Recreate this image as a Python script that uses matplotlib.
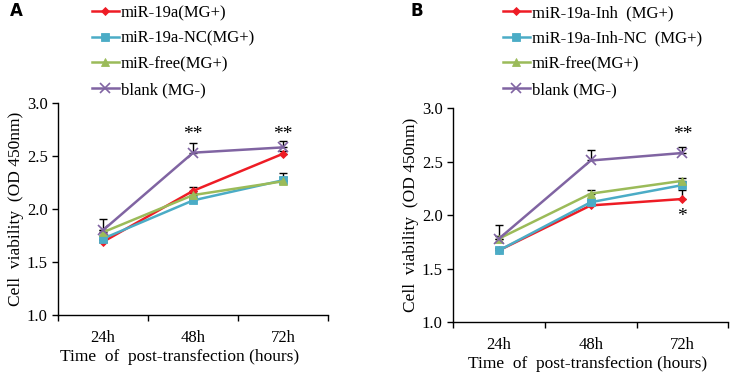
import matplotlib

matplotlib.use("Agg")
import matplotlib.pyplot as plt

plt.rcParams["font.family"] = ["Liberation Serif", "DejaVu Serif"]

TIMES = ["24h", "48h", "72h"]

LABELS_A = ["miR-19a(MG+)", "miR-19a-NC(MG+)", "miR-free(MG+)", "blank (MG-)"]
LABELS_B = ["miR-19a-Inh  (MG+)", "miR-19a-Inh-NC  (MG+)", "miR-free(MG+)", "blank (MG-)"]

# panel A means / upper errors
A_RED = [1.69, 2.17, 2.52]
A_CYAN = [1.72, 2.08, 2.27]
A_GREEN = [1.78, 2.13, 2.26]
A_PURPLE = [1.80, 2.53, 2.58]
A_RED_ERR = [0.02, 0.04, 0.03]
A_CYAN_ERR = [0.02, 0.02, 0.03]
A_GREEN_ERR = [0.02, 0.02, 0.08]
A_PURPLE_ERR = [0.10, 0.09, 0.06]

# panel B means / upper errors
B_RED = [1.67, 2.09, 2.15]
B_CYAN = [1.67, 2.12, 2.28]
B_GREEN = [1.78, 2.20, 2.32]
B_PURPLE = [1.78, 2.51, 2.58]
B_RED_ERR = [0.02, 0.02, 0.08]
B_CYAN_ERR = [0.02, 0.02, 0.03]
B_GREEN_ERR = [0.02, 0.03, 0.03]
B_PURPLE_ERR = [0.13, 0.10, 0.06]

# significance marks: (time index, y, text)
A_STARS = [(1, 2.70, "**"), (2, 2.70, "**")]
B_STARS = [(2, 2.75, "**"), (2, 1.99, "*")]

COLORS = ["#EE1C25", "#4BACC6", "#9BBB59", "#8064A2"]
MARKERS = ["D", "s", "^", "x"]
MSIZES = [4, 5.5, 5.5, 7]


def draw_panel(ax, series, errs, labels, stars, xlabel_x):
    xs = [0.5, 1.5, 2.5]
    handles = []
    for vals, err, lab, c, m, ms in zip(series, errs, labels, COLORS, MARKERS, MSIZES):
        ax.errorbar(xs, vals, yerr=[[0] * 3, err], fmt="none", ecolor="black",
                    elinewidth=1.0, capsize=3, capthick=1.0, zorder=2)
        (h,) = ax.plot(xs, vals, color=c, marker=m, markersize=ms, linewidth=1.8,
                       markeredgewidth=1.2 if m == "x" else 0.6, label=lab, zorder=3)
        handles.append(h)
    for i, y, t in stars:
        ax.text(xs[i], y, t, ha="center", va="center", fontsize=14)

    ax.set_xlim(0, 3)
    ax.set_ylim(1.0, 3.0)
    ax.set_yticks([1.0, 1.5, 2.0, 2.5, 3.0])
    ax.set_yticklabels(["1.0", "1.5", "2.0", "2.5", "3.0"], fontsize=12)
    ax.set_xticks([0, 1, 2, 3])
    ax.set_xticklabels([])
    ax.set_xticks(xs, minor=True)
    ax.set_xticklabels(TIMES, minor=True, fontsize=12)
    ax.tick_params(axis="x", which="minor", length=0, pad=11)
    ax.tick_params(axis="both", which="major", direction="out", length=4, width=1)
    for s in ["top", "right"]:
        ax.spines[s].set_visible(False)
    for s in ["left", "bottom"]:
        ax.spines[s].set_linewidth(1.0)
    ax.set_xlabel("Time  of  post-transfection (hours)", fontsize=12.5, labelpad=3)
    ax.xaxis.set_label_coords(xlabel_x, -0.16)
    ax.set_ylabel("Cell  viability  (OD 450nm)", fontsize=12.5, labelpad=2)
    return handles


fig = plt.figure(figsize=(7.37, 3.74), dpi=100)
ax_a = fig.add_axes([0.079, 0.158, 0.366, 0.567])
ax_b = fig.add_axes([0.615, 0.139, 0.373, 0.572])

h_a = draw_panel(ax_a, [A_RED, A_CYAN, A_GREEN, A_PURPLE],
                 [A_RED_ERR, A_CYAN_ERR, A_GREEN_ERR, A_PURPLE_ERR], LABELS_A, A_STARS, 0.45)
h_b = draw_panel(ax_b, [B_RED, B_CYAN, B_GREEN, B_PURPLE],
                 [B_RED_ERR, B_CYAN_ERR, B_GREEN_ERR, B_PURPLE_ERR], LABELS_B, B_STARS, 0.49)

leg_kw = dict(loc="upper left", frameon=False, fontsize=12, handlelength=1.6,
              handletextpad=0.12, labelspacing=0.58, borderpad=0, borderaxespad=0)
fig.legend(h_a, LABELS_A, bbox_to_anchor=(92 / 737, 1 - 5 / 374), **leg_kw)
fig.legend(h_b, LABELS_B, bbox_to_anchor=(503 / 737, 1 - 5 / 374), **leg_kw)

fig.text(10 / 737, 1 - 11 / 374, "A", fontsize=12, fontweight="bold",
         family="DejaVu Sans", va="center")
fig.text(410 / 737, 1 - 11 / 374, "B", fontsize=12, fontweight="bold",
         family="DejaVu Sans", va="center")

fig.savefig("out.png", dpi=100)
